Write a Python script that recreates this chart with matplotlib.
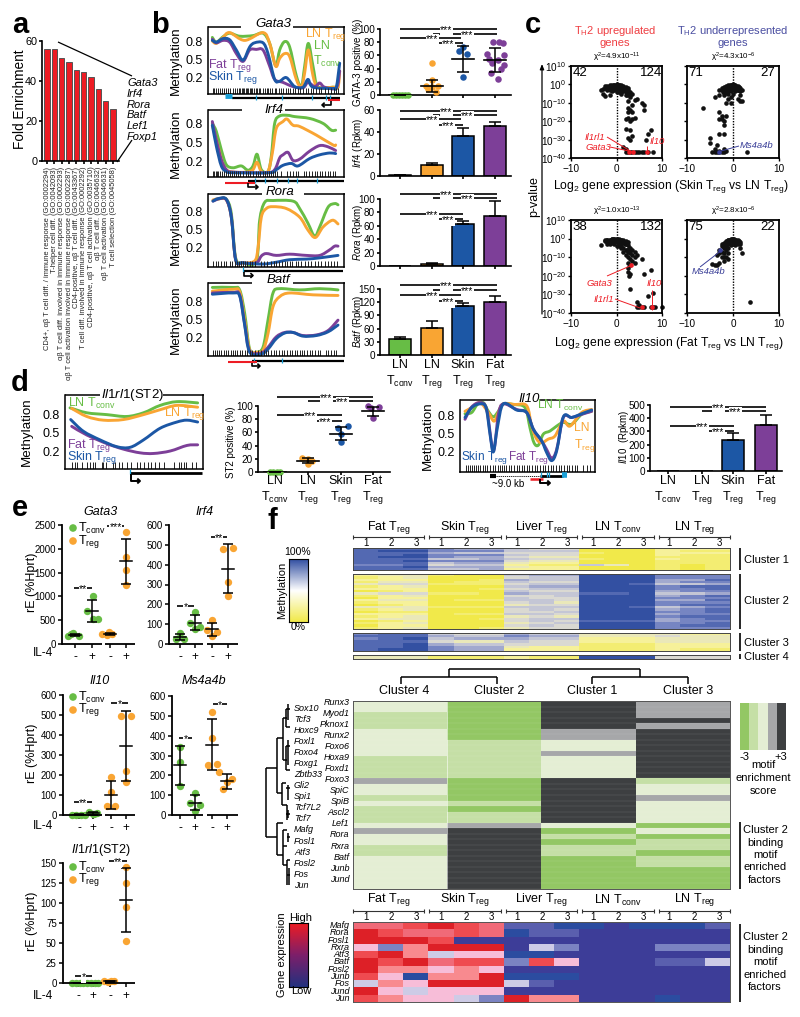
import numpy as np
import matplotlib
matplotlib.use("Agg")
import matplotlib.pyplot as plt
from matplotlib.colors import LinearSegmentedColormap, ListedColormap
from matplotlib.path import Path
from matplotlib.patches import PathPatch

plt.rcParams['font.family'] = ['Liberation Sans', 'DejaVu Sans']
plt.rcParams['mathtext.fontset'] = 'custom'
plt.rcParams['mathtext.rm'] = 'Liberation Sans'
plt.rcParams['mathtext.it'] = 'Liberation Sans:italic'
plt.rcParams['mathtext.default'] = 'regular'

W, H = 800, 1017
GREEN, ORANGE, BLUE, PURPLE = '#67bd45', '#f9a533', '#1c57a5', '#7d3f98'
RED = '#ed1c24'
NAVY = '#3a3f98'

# ---- panel a ----
go_terms = ['CD4+, αβ T cell diff. / immune response (GO:0002294)',
            'T-helper cell diff. (GO:0042093)',
            'αβ T cell diff. involved in immune response (GO:0002293)',
            'αβ T cell activation involved in immune response (GO:0002287)',
            'CD4-positive, αβ T cell diff. (GO:0043367)',
            'T cell diff. involved in immune response (GO:0002292)',
            'CD4-positive, αβ T cell activation (GO:0035710)',
            'αβ T cell diff. (GO:0046632)',
            'αβ T cell activation (GO:0046631)',
            'T cell selection (GO:0045058)']
fold_enrichment = [56, 56, 51.5, 49.5, 45.5, 44.5, 42, 36, 30, 26]
a_genes = ['Gata3', 'Irf4', 'Rora', 'Batf', 'Lef1', 'Foxp1']

# ---- panel b methylation curves: (track position, methylation) ----
gata3_green = [(638, .86), (650, .78), (670, .87), (690, .93), (720, .88), (760, .89), (790, .93), (810, .76), (828, .39), (840, .65), (855, .79), (870, .70), (890, .22), (905, .04), (915, .38), (926, .76), (940, .38), (955, .04), (1000, .03), (1015, .03)]
gata3_orange = [(638, .80), (650, .76), (670, .86), (690, .94), (735, .81), (790, .94), (810, .76), (828, .38), (840, .51), (855, .59), (870, .54), (890, .16), (905, .03), (915, .27), (926, .65), (940, .22), (955, .03), (1000, .03), (1015, .03), (1020, .30)]
gata3_purple = [(638, .83), (650, .77), (670, .81), (690, .78), (710, .59), (730, .46), (750, .65), (770, .66), (790, .65), (810, .38), (825, .16), (850, .11), (880, .04), (910, .02), (925, .11), (945, .04), (960, .10), (975, .03), (1010, .02), (1020, .30)]
gata3_blue = [(638, .81), (650, .78), (670, .84), (690, .82), (710, .65), (730, .48), (750, .70), (765, .77), (790, .77), (805, .59), (825, .16), (840, .13), (860, .19), (885, .04), (910, .03), (925, .16), (940, .03), (1000, .01), (1010, .03), (1020, .43)]

irf4_green = [(638, .81), (650, .68), (665, .38), (680, .14), (700, .09), (725, .12), (745, .05), (760, .12), (772, .31), (785, .06), (805, .03), (815, .28), (825, .81), (840, .93), (865, .94), (885, .92), (930, .89), (970, .81), (995, .70), (1008, .70)]
irf4_orange = [(638, .78), (655, .44), (670, .14), (690, .03), (740, .02), (760, .06), (772, .18), (785, .03), (805, .03), (818, .33), (830, .73), (850, .84), (862, .88), (880, .78), (900, .76), (950, .62), (1000, .46), (1008, .46)]
irf4_purple = [(638, .84), (650, .54), (665, .22), (680, .06), (700, .02), (800, .01), (825, .06), (840, .25), (850, .30), (865, .34), (880, .21), (900, .23), (930, .36), (960, .45), (985, .43), (1008, .37)]
irf4_blue = [(638, .78), (650, .44), (665, .12), (680, .03), (700, .01), (810, .01), (830, .06), (850, .13), (875, .16), (895, .12), (930, .24), (960, .30), (990, .33), (1008, .32)]

rora_green = [(640, .97), (660, 1.0), (680, .99), (695, .76), (708, .04), (730, -.04), (770, -.01), (780, .65), (795, .94), (820, .97), (880, .96), (900, .84), (925, .60), (945, .39), (960, .54), (985, .86), (1005, .92), (1015, .90)]
rora_orange = [(640, .98), (660, 1.0), (680, .98), (695, .70), (708, .01), (730, -.04), (765, -.01), (775, .20), (785, .70), (800, .84), (820, .87), (860, .84), (900, .70), (925, .49), (947, .37), (970, .54), (998, .65), (1015, .59)]
rora_purple = [(640, .96), (660, 1.0), (680, .98), (695, .70), (708, .01), (730, -.04), (770, -.04), (785, .07), (800, .11), (830, .08), (870, .10), (920, .08), (960, .08), (990, .17), (1005, .23), (1015, .23)]
rora_blue = [(640, .96), (655, 1.0), (680, .99), (695, .70), (708, .01), (730, -.04), (790, -.06), (830, -.03), (870, .01), (920, .02), (960, .04), (1015, .08)]

batf_green = [(638, 1.02), (700, 1.02), (720, .98), (735, .60), (750, .02), (770, -.03), (790, .05), (805, .49), (820, .93), (840, 1.0), (900, .98), (960, 1.0), (1015, .98)]
batf_orange = [(638, .96), (700, .99), (720, .95), (735, .49), (750, 0), (770, -.03), (790, 0), (805, .27), (820, .71), (840, .87), (870, .93), (940, .90), (1015, .89)]
batf_purple = [(638, .93), (700, .94), (720, .90), (735, .43), (750, -.01), (785, -.04), (805, .05), (830, .22), (855, .29), (880, .29), (910, .24), (950, .25), (985, .32), (1015, .49)]
batf_blue = [(638, .91), (700, .93), (720, .88), (735, .41), (750, -.03), (785, -.06), (805, .02), (830, .19), (855, .28), (880, .29), (910, .23), (950, .24), (985, .30), (1015, .41)]

il1rl1_green = [(210, .90), (260, .82), (320, .79), (380, .76), (430, .82), (480, .94), (530, 1.0), (592, .98)]
il1rl1_orange = [(215, .89), (260, .76), (310, .70), (370, .71), (430, .79), (480, .87), (530, .94), (592, .91)]
il1rl1_purple = [(215, .60), (260, .46), (320, .32), (370, .23), (420, .17), (460, .16), (510, .20), (560, .29), (592, .30)]
il1rl1_blue = [(212, .71), (250, .52), (300, .38), (350, .27), (390, .26), (430, .38), (480, .57), (530, .67), (560, .70), (592, .67)]

il10_green = [(195, .82), (215, .84), (232, .97), (250, 1.0), (265, .86), (280, .77), (295, .86), (310, .98), (340, .97), (375, .92), (390, .59), (402, .35), (415, .31), (430, .49), (450, .54), (470, .62), (490, .68), (515, .65), (545, .81), (575, .86)]
il10_orange = [(195, .86), (215, .92), (240, 1.0), (265, .84), (282, .70), (295, .84), (310, .98), (345, .97), (380, .95), (395, .62), (410, .41), (425, .35), (445, .41), (465, .46), (490, .70), (510, .62), (545, .84), (575, .89)]
il10_purple = [(195, .73), (215, .93), (240, 1.0), (260, .89), (280, .22), (295, .81), (310, .98), (350, .89), (380, .84), (400, .57), (425, .38), (440, .24), (455, .10), (470, .24), (490, .76), (515, .76), (545, .81), (575, .86)]
il10_blue = [(195, .76), (215, .92), (240, .98), (258, .92), (270, .49), (280, .20), (292, .59), (310, .98), (350, .88), (380, .84), (400, .57), (425, .38), (440, .19), (455, .06), (470, .22), (490, .77), (515, .76), (545, .82), (575, .88)]

# CpG rug positions along each track
gata3_rug = [640, 644, 650, 655, 661, 668, 672, 680, 684, 690, 700, 707, 712, 718, 722, 726, 730, 733, 738, 742, 746, 750, 754, 758, 763, 768, 772, 777, 782, 790, 795, 801, 806, 812, 818, 825, 830, 838, 845, 850, 858, 865, 872, 880, 886, 895, 902, 910, 918, 925, 933, 940, 948, 958, 965, 975, 985, 993, 1002, 1010, 1016]
irf4_rug = [640, 644, 648, 652, 656, 662, 668, 672, 678, 684, 690, 696, 702, 708, 716, 722, 730, 738, 745, 752, 760, 768, 775, 782, 790, 796, 802, 808, 814, 820, 826, 832, 845, 862, 870, 880, 888, 895, 912, 920, 928, 936, 945, 952, 960, 968, 976, 985, 992, 1000, 1006]
rora_rug = [640, 648, 656, 664, 672, 680, 690, 697, 705, 712, 718, 724, 730, 736, 742, 750, 758, 766, 785, 792, 802, 815, 822, 830, 838, 846, 855, 862, 870, 878, 888, 896, 905, 915, 925, 935, 945, 955, 965, 975, 985, 995, 1003, 1012]
batf_rug = [640, 646, 652, 658, 664, 672, 680, 686, 694, 700, 706, 712, 720, 728, 736, 742, 750, 758, 766, 775, 784, 792, 800, 806, 814, 822, 830, 838, 846, 854, 862, 870, 878, 886, 892, 900, 906, 914, 922, 930, 938, 946, 954, 962, 978, 986, 994, 1002, 1010]
il1rl1_rug = [216, 224, 232, 245, 262, 270, 278, 285, 305, 310, 318, 340, 346, 358, 366, 382, 392, 410, 420, 432, 444, 452, 465, 476, 490, 520, 536, 542, 550, 558, 575, 588]
il10_rug = [198, 204, 210, 216, 222, 228, 234, 240, 248, 254, 262, 270, 278, 286, 294, 300, 306, 312, 318, 326, 334, 342, 350, 358, 366, 372, 380, 388, 396, 404, 412, 420, 428, 436, 444, 452, 460, 468, 476, 484, 492, 500, 508, 516, 524, 532, 550, 562, 570]

# ---- panel b / d summary values ----
tick_cells = ['LN', 'LN', 'Skin', 'Fat']
sub_cells = ['conv', 'reg', 'reg', 'reg']
bar_colors = [GREEN, ORANGE, BLUE, PURPLE]

gata_points = [[0, 0, 0, 0, 0, 0], [49, 23, 14, 14, 9, 5, 12], [72, 66, 62, 27], [80, 80, 79, 62, 60, 55, 53, 48, 45, 40, 33, 25]]
gata_offsets = [[-7, -4, -1, 2, 5, 8], [0, 0, -6, 6, -4, 4, 0], [0, -4, 4, 0], [-2, 4, 8, -8, 9, -6, 3, -3, 9, 6, -4, 3]]
gata_means = [0, 14, 55, 53]
gata_sd = [0, 9, 20, 18]
irf4_vals, irf4_err = [.5, 10, 36, 45.5], [.5, 2, 8, 4]
rora_vals, rora_err = [0, 3, 62, 75], [0, 1.5, 5, 22]
batf_vals, batf_err = [37, 62, 112, 120], [4, 16, 7, 14]
il10_vals, il10_err = [0, 0, 238, 345], [0, 0, 47, 82]
st2_points = [[0, 0, 0, 0], [21, 20, 17, 12], [70, 67, 58, 46], [100, 98, 97, 82]]
st2_offsets = [[-5, -2, 2, 5], [-6, 0, 4, 0], [7, -3, 0, 0], [-5, 6, -2, 0]]
st2_means = [0, 17, 58, 92]
st2_sd = [0, 4, 10, 7]

# ---- panel c (log2 fold change, log10 p) ----
skin_up_x = [-3.5, -3, -2.5, -2, -1.5, -1, -.5, 0, .5, 1, 1.5, 2, 2.5, 3, 3.5, -3, -2, -1, -.5, 0, .5, 1, 1.5, -1, 0, 1, 2, 2.5, -2.5, -1.5, 2, 3, 2.5, 4, 4.5, 5.5, 6, 3.5, 2.5, 2.5, 3, 3.5, 6, 2.5, 2, 3, 3.5, 4, 2, 3, 7.5, 7, 2.5, 3, 3.5, 6.5, 1.5, 2, 2.5, 3, 3.5, 4, 4.5, 5, 5.5, 6, 7, 8, 2]
skin_up_y = [-3, -2.5, -2, -1.5, -1, -.6, -.3, 0, -.3, -1, -1.5, -2, -3, -4, -5, -5, -3, -2.5, -1.5, -1.5, -2.5, -3, -3.5, -3.5, -3, -4, -4, -5, -6.5, -6, -6, -7, -9, -8.5, -8, -10, -11, -11, -13, -15, -14, -15, -14, -18, -19, -20, -19, -18, -24, -25, -25, -27, -29, -30, -28, -30, -34, -37, -37, -37, -37, -37, -37, -37, -37, -37, -37, -37, -35]
skin_down_x = [-3, -2.5, -2, -1.5, -1, -.5, 0, .5, 1, 1.5, 2, 1.5, -2, -1, 0, 1, .5, -.5, -1, -3, -4, -2, -1, 0, 1.5, 1, 1.5, 2, -.5, -1, -1.5, -.5, -6.5, -3, -2.5, -2.5, -2, -3, -1.5, -2, -5, -3, -2, -5, -3.5, -4, -4.5, -4, -3.5, -3, -2.5, -2, -1.5, -2, 3, -3]
skin_down_y = [-3, -2, -1.5, -1, -.5, -.2, 0, -.4, -1, -2, -3, -3.5, -3, -2, -2, -3, -3, -3, -3.5, -6, -7, -6, -5, -5, -6, -8, -9, -9, -7, -8, -10, -10, -13, -15, -17, -19, -20, -19, -17, -22, -29, -27, -27, -32, -33, -35, -37, -37, -37, -37, -37, -37, -36, -35, -37, -36]
fat_up_x = [-3.5, -2.5, -2, -1.5, -1, -.5, 0, .5, 1, 1.5, 2, 2.5, 3, 3.5, 4, -2, -1, 0, .5, 1, 1.5, 2, 2.5, 3, 3.5, 1.5, 2, 2.5, 3, 3.5, 4, 4.5, 5.5, 2.5, 3, 4, 2.5, 2.5, 3, 2.8, 6, 7.5, 3, 7, 8, 4.5, 4.5, 5, 5.5, 6, 7.5, 8, 8.5, 10, 5]
fat_up_y = [-3.5, -1.5, -1, -.5, -.3, -.1, 0, -.5, -1, -1.5, -2.5, -3.5, -5, -6, -7, -3, -2, -2, -3, -4, -5, -6, -7, -8, -9, -7, -9, -10, -11, -12, -10, -9, -11, -13, -14, -13, -16, -18, -19, -20, -19, -17, -27, -31, -29, -34, -37, -37, -37, -37, -37, -37, -37, -37, -35.5]
fat_down_x = [-2.5, -2, -1.5, -1, -.5, 0, .5, 1, 1.5, -1.5, -1, 0, .5, -2, -3, -2.5, -3, -3.5, -2, -1.5, -1, -2, -2.5, -1, -1.5, -2, -1, -3.5, -4, -4.5, -3, 2, 1.5, 3.7]
fat_down_y = [-4, -3, -2, -1, -.3, 0, -.5, -1, -2, -3.5, -3, -2, -3, -5, -6, -7, -8, -9, -8, -6, -5, -10, -10, -8, -10, -12, -11, -14, -14, -13.5, -13, -7.5, -5, -34]
# the dense arch near p=1 shared by the up-regulated plots and by the under-represented plots
arch_up_x = [-2.5, -2, -1.5, -1, -.5, 0, .5, 1, 1.5, 2, -1.5, -1, -.5, 0, .5, 1, 1.5, 2, -.5, 0, .5, 1, -2, -1.5, .3, -.3, .8, 1.2, 1.8, 2.2, -.8, -1.2, 2.5, 2.8, 3, 2.2]
arch_up_y = [-1, -.7, -.5, -.3, -.2, -.1, -.2, -.5, -1, -1.3, -2, -1.5, -.8, -.7, -1.2, -2, -2.5, -3, -3, -4, -4, -5, -2, -3, -1, -1, -1.5, -2, -3, -3, -2, -2.5, -2, -5, -6, -6]
arch_down_x = [-2.5, -2, -1.5, -1, -.7, -.3, .2, .7, 1.2, -1.2, -.8, -.4, .3, .8, -1.5, -.5, .5, -2.2, -1.8, 1.5, -.2, .1, 1]
arch_down_y = [-3, -2.2, -1.5, -.8, -.5, -.2, -.2, -.7, -1.5, -2.5, -2, -1.5, -1.5, -2, -3.5, -3.5, -3.5, -4, -4.5, -3, -.8, -.9, -3]
skin_up_marks = [(2.8, -37), (3.6, -37), (6.8, -37)]
skin_down_marks = [(-3, -37)]
fat_up_marks = [(3.2, -14), (5.5, -37), (7.8, -37)]
fat_down_marks = [(-2.8, -6)]
c_counts = [('42', '124'), ('71', '27'), ('38', '132'), ('75', '22')]
c_chi = ['4.9x10$^{-11}$', '4.3x10$^{-6}$', '1.0x10$^{-13}$', '2.8x10$^{-6}$']
p_ticks = [10, 0, -10, -20, -30, -40]

# ---- panel e ----
e_gata3 = [[230, 170, 170, 200], [1015, 700, 520, 520], [215, 255, 195, 215], [2350, 1820, 1550, 1240]]
e_gata3_off = [[-2, -7, 4, -4], [1, -5, 1, 6], [-8, -1, -3, 2], [0, 0, 0, 0]]
e_gata3_mean, e_gata3_sd = [190, 690, 215, 1740], [30, 230, 20, 470]
e_irf4 = [[55, 25, 25], [160, 105, 85, 75], [122, 70, 60, 42], [480, 485, 315, 240]]
e_irf4_off = [[0, -4, 4], [0, -5, 5, 0], [0, -5, 5, 0], [-5, 5, 0, 0]]
e_irf4_mean, e_irf4_sd = [35, 108, 75, 380], [15, 37, 33, 122]
e_il10 = [[0, 0, 0, 2], [15, 10, 5, 5], [190, 115, 45, 45], [495, 497, 220, 165]]
e_il10_off = [[-7, -3, 2, 6], [-4, 4, 0, 1], [0, 0, -4, 4], [-5, 5, 0, 0]]
e_il10_mean, e_il10_sd = [2, 8, 100, 345], [1, 6, 70, 175]
e_ms4 = [[345, 265, 145], [110, 60, 50, 20], [518, 390, 255, 250], [215, 182, 130, 165]]
e_ms4_off = [[0, 0, 0], [0, -5, 5, 0], [0, 0, 5, -4], [-8, 5, -4, 0]]
e_ms4_mean, e_ms4_sd = [250, 62, 355, 170], [100, 37, 127, 37]
e_st2 = [[0, 0, 0, 0], [0, 0, 0, 0], [3, 3, 1, 2], [145, 125, 95, 52]]
e_st2_off = [[-6, -2, 2, 5], [-6, -2, 2, 5], [-6, 4, -2, 1], [0, 0, 0, 0]]
e_st2_mean, e_st2_sd = [0, 0, 2, 104], [0, 0, 1, 40]
il4_signs = ['-', '+', '-', '+']

# ---- panel f ----
f_groups = ['Fat', 'Skin', 'Liver', 'LN', 'LN']
f_subs = ['reg', 'reg', 'reg', 'conv', 'reg']
cluster1_rows = ['888 766 544 000 222', '899 777 555 000 211', '888 655 444 100 222',
                 '889 777 544 000 211', '899 766 433 000 111', '888 556 544 100 211',
                 '889 777 433 000 111', '888 566 322 000 111', '778 455 211 530 101',
                 '889 666 322 000 101', '888 556 222 000 101']
cluster2_rows = ['233 100 566 999 777', '123 000 455 999 777', '222 001 655 999 668',
                 '133 011 544 999 677', '344 111 455 998 556', '123 000 566 999 788',
                 '222 001 455 999 778', '012 000 544 999 677', '344 110 655 889 556',
                 '123 000 445 999 678', '022 000 544 999 777', '233 011 554 999 668',
                 '122 000 453 999 777', '012 000 344 999 788', '333 111 555 998 567',
                 '123 000 454 999 678', '011 000 445 999 778', '222 011 554 999 677',
                 '123 000 343 999 788', '233 001 455 999 678', '012 000 454 888 677',
                 '123 000 345 999 778', '022 000 454 999 788', '123 001 344 999 777']
cluster3_rows = ['788 544 655 333 322', '888 655 766 333 433', '789 566 655 222 333',
                 '888 433 544 222 333', '889 655 444 111 222', '889 766 322 111 222',
                 '899 766 222 111 211']
cluster4_rows = ['333 111 211 999 444']

motif_names = ['Runx3', 'Sox10', 'Myod1', 'Tcf3', 'Pknox1', 'Hoxc9', 'Runx2', 'Foxl1', 'Foxo6', 'Foxo4', 'Hoxa9',
               'Foxg1', 'Foxd1', 'Zbtb33', 'Foxo3', 'Gli2', 'SpiC', 'Spi1', 'SpiB', 'Tcf7L2', 'Ascl2', 'Tcf7',
               'Lef1', 'Mafg', 'Rora', 'Fosl1', 'Rxra', 'Atf3', 'Batf', 'Fosl2', 'Junb', 'Fos', 'Jund', 'Jun']
motif_rows = ['2043', '2043', '1043', '1044', '1043', '2034', '2034', '2124', '2124', '2134', '1124', '1124',
              '1124', '1124', '3041', '2042', '2042', '1043', '2142', '1042', '1142', '1142', '2320', '3402',
              '2410', '2401', '1411', '1410', '2401', '2401', '2400', '2400', '2400', '2400']
motif_colors = ['#93c764', '#c5dfa6', '#e4eed4', '#a6a7a9', '#3d3f41']
motif_columns = ['Cluster 4', 'Cluster 2', 'Cluster 1', 'Cluster 3']

expr_names = ['Mafg', 'Rora', 'Fosl1', 'Rxra', 'Atf3', 'Batf', 'Fosl2', 'Junb', 'Fos', 'Jund', 'Jun']
expr_rows = ['hhijihccbbabbbc', 'jihhihbccaaaaaa', 'jjjiaaaaaaaaaaa', 'fdgjjjaedaaaddd', 'ijgeffbbaaaaaaa',
             'jijhiidifaaacce', 'jggfgfaaaaaaaaa', 'ifbggjbbbaaaaaa', 'egfjjjecaaaaaaa', 'jfefffaaaaaaaaa',
             'igffedjggaaabaa']
expr_codes = 'abcdefghij'
expr_colors = ['#3d3d98', '#2b4ca0', '#5a5fae', '#7b83c2', '#cdcbe6', '#f7bdd8', '#f88a8f', '#f06a78', '#ef4b50', '#dd2027']


fig = plt.figure(figsize=(W / 100, H / 100), dpi=100)


def px_axes(l, t, r, b):
    return fig.add_axes([l / W, 1 - b / H, (r - l) / W, (b - t) / H])


# overlay in image pixels for labels, brackets and gene tracks
ov = fig.add_axes([0, 0, 1, 1], zorder=50)
ov.set_xlim(0, W)
ov.set_ylim(H, 0)
ov.axis('off')
ov.patch.set_alpha(0)


def txt(x, y, s, size=9, color='black', ha='center', va='center', **kw):
    ov.text(x, y, s, fontsize=size, color=color, ha=ha, va=va, **kw)


def seg(xs, ys, lw=1.0, color='black', **kw):
    ov.plot(xs, ys, color=color, lw=lw, solid_capstyle='butt', **kw)


def stars(x0, x1, y, label='***', xc=None, lw=1.2):
    seg([x0, x1], [y, y], lw=lw)
    xc = (x0 + x1) / 2 if xc is None else xc
    ov.text(xc, y + 1.5, label, fontsize=7.5, ha='center', va='center',
            bbox=dict(fc='white', ec='none', pad=0.2))


def clean(ax, lw=1.2, size=7.2, length=2.5):
    ax.spines['top'].set_visible(False)
    ax.spines['right'].set_visible(False)
    ax.spines['left'].set_linewidth(lw)
    ax.spines['bottom'].set_linewidth(lw)
    ax.tick_params(width=lw, length=length, labelsize=size, pad=1)
    ax.patch.set_alpha(0)


def cell_labels(xs, y0, y1, size=9):
    for x, a, b in zip(xs, tick_cells, sub_cells):
        txt(x, y0, a, size=size)
        txt(x, y1, 'T$_{%s}$' % b, size=size)


def smooth_curve(ax, pts, color):
    # bezier path through the read points so the trace stays rounded
    p = np.array(pts, dtype=float)
    verts = [p[0]]
    codes = [Path.MOVETO]
    for i in range(len(p) - 1):
        p0 = p[max(i - 1, 0)]
        p1, p2 = p[i], p[i + 1]
        p3 = p[min(i + 2, len(p) - 1)]
        verts += [p1 + (p2 - p0) / 6, p2 - (p3 - p1) / 6, p2]
        codes += [Path.CURVE4] * 3
    ax.add_patch(PathPatch(Path(verts, codes), fc='none', ec=color, lw=2.1, capstyle='round', joinstyle='round'))


for letter, x, y in [('a', 20, 25), ('b', 160, 25), ('c', 533, 25), ('d', 20, 383), ('e', 20, 508), ('f', 272, 521)]:
    txt(x, y, letter, size=21, fontweight='bold')

# ---------- a ----------
ax = px_axes(42, 41, 119, 161)
clean(ax, size=7.8)
ax.bar(range(len(fold_enrichment)), fold_enrichment, width=0.72, color=RED, edgecolor='#555555', linewidth=0.7)
ax.set_xlim(-0.7, 9.8)
ax.set_ylim(0, 60)
ax.set_yticks([0, 20, 40, 60])
ax.set_xticks(range(len(go_terms)))
ax.set_xticklabels([])
for i, t in enumerate(go_terms):
    ax.annotate(t, (i, 0), xytext=(0, -4), textcoords='offset points', rotation=90, ha='center', va='top', fontsize=5.4, color='#222222')
txt(20, 99, 'Fold Enrichment', size=9.8, rotation=90)
seg([58, 132], [42, 76], lw=0.9)
seg([117, 132], [162, 140], lw=0.9)
for g, y in zip(a_genes, [83, 94, 105, 115, 126, 137]):
    txt(127, y, g, size=8, ha='left', style='italic')


# ---------- methylation tracks ----------
def methyl(box, y08, y02, xlim, curves, rug, title, title_x, gap, title_y=None, rug_h=0.085):
    l, t, r, b = box
    ax = px_axes(l, t, r, b)
    scale = (y02 - y08) / 0.6
    ax.set_ylim(0.2 - (b - y02) / scale, 0.8 + (y08 - t) / scale)
    ax.set_xlim(*xlim)
    ax.vlines(rug, 0, rug_h, transform=ax.get_xaxis_transform(), color='#222222', lw=0.7)
    for c, col in zip(curves, [GREEN, ORANGE, PURPLE, BLUE]):
        smooth_curve(ax, c, col)
    ax.set_xticks([])
    ax.set_yticks([0.2, 0.5, 0.8])
    ax.set_yticklabels(['0.2', '0.5', '0.8'])
    ax.tick_params(length=0, labelsize=9, pad=4)
    ax.spines['top'].set_visible(False)
    for s in ['left', 'right', 'bottom']:
        ax.spines[s].set_linewidth(1.1)
    seg([l - 0.5, gap[0]], [t, t], lw=1.1)
    seg([gap[1], r + 0.5], [t, t], lw=1.1)
    txt(title_x, t if title_y is None else title_y, title, size=9.5, style='italic')
    txt(l - 32 if l > 100 else l - 38, (t + b) / 2, 'Methylation', size=9.6, rotation=90)


methyl((208, 27, 344, 94), 41, 77, (625, 1033), [gata3_green, gata3_orange, gata3_purple, gata3_blue], gata3_rug, 'Gata3', 273, (241, 293), 24)
methyl((208, 110, 344, 177), 124, 161, (625, 1033), [irf4_green, irf4_orange, irf4_purple, irf4_blue], irf4_rug, 'Irf4', 274, (242, 285))
methyl((208, 194, 344, 267), 211, 248, (625, 1033), [rora_green, rora_orange, rora_purple, rora_blue], rora_rug, 'Rora', 280, (262, 304), 192)
methyl((208, 283, 344, 356), 301, 338, (625, 1033), [batf_green, batf_orange, batf_purple, batf_blue], batf_rug, 'Batf', 278, (252, 293), 280)

txt(305, 35, 'LN T$_{reg}$', size=9, color=ORANGE, ha='left')
txt(322, 46, 'LN', size=9, color=GREEN)
txt(313, 61, 'T$_{conv}$', size=9, color=GREEN, ha='left')
txt(208, 66, 'Fat T$_{reg}$', size=9, color=PURPLE, ha='left')
txt(208, 78, 'Skin T$_{reg}$', size=9, color=BLUE, ha='left')


def arrow_track(x, y0, y1, x1, lw=1.2):
    seg([x, x, x1], [y0, y1, y1], lw=lw)
    d = 2 if x1 > x else -2
    ov.plot([x1 - d, x1, x1 - d], [y1 - 1.8, y1, y1 + 1.8], color='black', lw=lw)


# gene tracks under panel b and d
LB = '#1ba1d8'
seg([232, 340], [97.7, 97.7], lw=1.6)
seg([225, 232], [96, 96], lw=3.5, color=LB)
for x in [256, 282, 312, 326, 330]:
    seg([x, x], [95, 100], lw=0.9, color=LB)
seg([328, 340], [99.6, 99.6], lw=1.5, color=RED)
arrow_track(331, 101, 105, 322)
seg([248, 344], [180.5, 180.5], lw=1.6)
for x in [255, 265, 277, 288, 297, 317]:
    seg([x, x], [178, 183], lw=0.9, color=LB)
seg([225, 255], [183, 183], lw=1.5, color=RED)
arrow_track(248, 183, 187, 258)
seg([243, 343], [271, 271], lw=1.6)
seg([243, 243], [267, 272], lw=0.9, color=LB)
arrow_track(244, 272, 275.5, 253)
seg([252, 344], [360.5, 360.5], lw=1.6)
for x in [254, 282]:
    seg([x, x], [358, 363], lw=0.9, color=LB)
seg([228, 257], [362, 362], lw=1.5, color=RED)
arrow_track(252, 363, 366, 260)


def dotted_strip(ax, cats, points, offsets, means, sds, ms=19):
    for x, p, o, m, s, col in zip(cats, points, offsets, means, sds, bar_colors):
        ax.scatter(np.array(o) + x, p, s=ms, color=col, zorder=3, linewidths=0, clip_on=False)
        ax.plot([x - 11, x + 11], [m, m], color='black', lw=1.2, zorder=4)
        ax.errorbar([x], [m], yerr=[s], color='black', lw=1.1, capsize=4, capthick=1.1, zorder=4)


def bars(ax, cats, vals, errs, w=22):
    ax.bar(cats, vals, width=w, color=bar_colors, edgecolor='black', linewidth=1.1)
    for x, v, e in zip(cats, vals, errs):
        if e > 0:
            ax.errorbar([x], [v], yerr=[[0], [e]], color='black', lw=1.1, capsize=4, capthick=1.1)


cats_b = [400, 432, 463, 495]
ax = px_axes(380, 29, 511, 95)
clean(ax)
dotted_strip(ax, cats_b, gata_points, gata_offsets, gata_means, gata_sd, ms=22)
ax.set_xlim(380, 511)
ax.set_ylim(0, 100)
ax.set_yticks(range(0, 101, 20))
ax.set_xticks(cats_b)
ax.set_xticklabels([])
ax = px_axes(380, 110, 511, 176)
clean(ax)
bars(ax, cats_b, irf4_vals, irf4_err)
ax.set_xlim(380, 511)
ax.set_ylim(0, 60)
ax.set_yticks([0, 20, 40, 60])
ax.set_xticks(cats_b)
ax.set_xticklabels([])
ax = px_axes(380, 199, 511, 266)
clean(ax)
bars(ax, cats_b, rora_vals, rora_err)
ax.set_xlim(380, 511)
ax.set_ylim(0, 100)
ax.set_yticks(range(0, 101, 20))
ax.set_xticks(cats_b)
ax.set_xticklabels([])
ax = px_axes(380, 289, 511, 355)
clean(ax)
bars(ax, cats_b, batf_vals, batf_err)
ax.set_xlim(380, 511)
ax.set_ylim(0, 150)
ax.set_yticks(range(0, 151, 30))
ax.set_xticks(cats_b)
ax.set_xticklabels([])
cell_labels(cats_b, 365, 381)

txt(358, 62, 'GATA-3 positive (%)', size=7, rotation=90)
txt(358, 143, '$\\mathit{Irf4}$ (Rpkm)', size=7, rotation=90)
txt(358, 232, '$\\mathit{Rora}$ (Rpkm)', size=7, rotation=90)
txt(358, 321, '$\\mathit{Batf}$ (Rpkm)', size=7, rotation=90)

for tops in [(29, 34, 38, 43), (110.7, 115, 119, 125), (194, 198, 214, 219), (285, 290, 295, 301)]:
    stars(400, 497, tops[0], xc=446)
    stars(433, 497, tops[1], xc=467)
    stars(400, 463, tops[2], xc=432)
    stars(433, 463, tops[3], xc=448)

# ---------- c ----------
c_boxes = [(571, 66, 662, 158), (687, 66, 779, 158), (571, 220, 662, 313), (687, 220, 779, 313)]
c_data = [(skin_up_x + arch_up_x, skin_up_y + arch_up_y, skin_up_marks, RED), (skin_down_x + arch_down_x, skin_down_y + arch_down_y, skin_down_marks, NAVY),
          (fat_up_x + arch_up_x, fat_up_y + arch_up_y, fat_up_marks, RED), (fat_down_x + arch_down_x, fat_down_y + arch_down_y, fat_down_marks, NAVY)]
for i, (box, d, cnt, chi) in enumerate(zip(c_boxes, c_data, c_counts, c_chi)):
    ax = px_axes(*box)
    ax.axvline(0, color='black', lw=1.0, ls=(0, (1, 1)), zorder=1)
    ax.scatter(d[0], d[1], s=11, color='#111111', linewidths=0, zorder=2, clip_on=False)
    mx, my = zip(*d[2])
    ax.scatter(mx, my, s=11, color=d[3], linewidths=0, zorder=3, clip_on=False)
    ax.set_xlim(-10, 10)
    ax.set_ylim(-40, 10)
    ax.set_xticks([-10, 0, 10])
    ax.set_yticks(p_ticks)
    if i % 2 == 0:
        ax.set_yticklabels(['10$^{%d}$' % p for p in p_ticks])
    else:
        ax.set_yticklabels([])
    ax.tick_params(labelsize=7.2, length=2.5, width=1.0, pad=1.5)
    for s in ax.spines.values():
        s.set_linewidth(1.3)
    ax.patch.set_alpha(0)
    l, t, r, b = box
    txt(l + 9, t + 7, cnt[0], size=9.5)
    txt(r - 11, t + 7, cnt[1], size=9.5)
    txt((l + r) / 2 + 0.5, t - 9, 'χ$^2$=' + chi, size=5.8)

txt(615, 31, 'T$_H$2 upregulated', size=8, color='#ef3e42')
txt(615, 43, 'genes', size=8, color='#ef3e42')
txt(733, 31, 'T$_H$2 underrepresented', size=8, color='#4a4ea1')
txt(733, 43, 'genes', size=8, color='#4a4ea1')
txt(671, 187, 'Log$_2$ gene expression (Skin T$_{reg}$ vs LN T$_{reg}$)', size=8.7)
txt(669, 343, 'Log$_2$ gene expression (Fat T$_{reg}$ vs LN T$_{reg}$)', size=8.7)
txt(534, 197, 'p-value', size=9, rotation=90)
ov.annotate('', xy=(542, 64), xytext=(542, 314), arrowprops=dict(arrowstyle='-|>,head_width=0.12,head_length=0.3', color='black', lw=0.9, shrinkA=0, shrinkB=0))

for t, x, y, c, xs, ys in [('Il1rl1', 595, 137, RED, [607, 632], [137, 152]), ('Gata3', 598, 147, RED, [610, 629], [147, 151]),
                           ('Il10', 657, 142, RED, [647, 647], [146, 152]), ('Ms4a4b', 757, 145, NAVY, [739, 721], [146, 151]),
                           ('Gata3', 599, 283, RED, [607, 630], [276, 266]), ('Il10', 654, 284, RED, [652, 652], [290, 310]),
                           ('Il1rl1', 604, 299, RED, [615, 640], [299, 308]), ('Ms4a4b', 709, 272, NAVY, [700, 722], [267, 250])]:
    seg(xs, ys, lw=0.7, color=c)
    txt(x, y, t, size=6.8, color=c, style='italic')

# ---------- d ----------
methyl((65, 395, 203, 469), 414, 451, (195, 608), [il1rl1_green, il1rl1_orange, il1rl1_purple, il1rl1_blue], il1rl1_rug, '', 133, (100, 163), rug_h=0.09)
txt(133, 395, '$\\mathit{Il1rl1}$(ST2)', size=9.5)
txt(68, 403, 'LN T$_{conv}$', size=9, color=GREEN, ha='left')
txt(164, 414, 'LN T$_{reg}$', size=9, color=ORANGE, ha='left')
txt(67, 445, 'Fat T$_{reg}$', size=9, color=PURPLE, ha='left')
txt(67, 457, 'Skin T$_{reg}$', size=9, color=BLUE, ha='left')
seg([130, 202], [473, 473], lw=2)
seg([130, 130], [469, 474], lw=0.9, color=LB)
arrow_track(131, 474, 481, 140, lw=1.4)

cats_st2 = [275, 308, 341, 373]
ax = px_axes(258, 406, 390, 472)
clean(ax)
dotted_strip(ax, cats_st2, st2_points, st2_offsets, st2_means, st2_sd, ms=22)
ax.set_xlim(258, 390)
ax.set_ylim(0, 100)
ax.set_yticks(range(0, 101, 20))
ax.set_xticks(cats_st2)
ax.set_xticklabels([])
txt(231, 442, 'ST2 positive (%)', size=7, rotation=90)
cell_labels(cats_st2, 481, 497, size=9)
stars(277, 373, 397, xc=326)
stars(308, 373, 401, xc=342)
stars(277, 342, 415, xc=310)
stars(308, 342, 421, xc=325)

methyl((460, 400, 595, 472), 415, 452, (180, 585), [il10_green, il10_orange, il10_purple, il10_blue], il10_rug, '', 529, (495, 540), rug_h=0.10)
txt(529, 399, 'Il10', size=9.5, style='italic')
txt(537, 405, 'LN T$_{conv}$', size=8.7, color=GREEN, ha='left')
txt(582, 428, 'LN', size=8.7, color=ORANGE)
txt(585, 445, 'T$_{reg}$', size=8.7, color=ORANGE)
txt(461, 457, 'Skin T$_{reg}$', size=8.5, color=BLUE, ha='left')
txt(508, 457, 'Fat T$_{reg}$', size=8.5, color=PURPLE, ha='left')
seg([490, 496], [476, 476], lw=3)
ov.plot([496, 540], [476, 476], color='black', lw=0.6, ls=(0, (1.5, 1)))
seg([540, 563], [476, 476], lw=2)
for x in [541, 547, 549]:
    seg([x, x], [472, 477], lw=0.9, color=LB)
seg([562, 567], [474.5, 474.5], lw=4, color=LB)
seg([530, 543], [478.5, 478.5], lw=1.8, color=RED)
arrow_track(540, 479, 483, 550, lw=1.4)
txt(508, 484, '~9.0 kb', size=7)

cats_il10 = [668, 702, 733, 766]
ax = px_axes(650, 405, 782, 471)
clean(ax)
bars(ax, cats_il10, il10_vals, il10_err)
ax.set_xlim(650, 782)
ax.set_ylim(0, 500)
ax.set_yticks(range(0, 501, 100))
ax.set_xticks(cats_il10)
ax.set_xticklabels([])
txt(624, 437, '$\\mathit{Il10}$  (Rpkm)', size=7, rotation=90)
cell_labels(cats_il10, 481, 497, size=9)
stars(670, 766, 406.5, xc=718)
stars(702, 766, 411, xc=735)
stars(670, 734, 426, xc=702)
stars(702, 734, 431, xc=718)


# ---------- e ----------
def dots_panel(box, cats, ymax, ticks, points, offsets, means, sds, title, title_xy, ylabel=True, brk=None):
    ax = px_axes(*box)
    ax.spines['top'].set_visible(False)
    ax.spines['right'].set_visible(False)
    ax.spines['bottom'].set_visible(False)
    ax.spines['left'].set_linewidth(1.3)
    colors = [GREEN, GREEN, ORANGE, ORANGE]
    for x, p, o, m, s, col in zip(cats, points, offsets, means, sds, colors):
        ax.scatter(np.array(o) + x, p, s=28, color=col, linewidths=0, zorder=3, clip_on=False)
        ax.plot([x - 6, x + 6], [m, m], color='black', lw=1.1, zorder=4)
        ax.errorbar([x], [m], yerr=[s], color='black', lw=1.1, capsize=3.5, capthick=1.1, zorder=4)
    ax.set_xlim(box[0], box[2])
    ax.set_ylim(0, ymax)
    ax.set_yticks(ticks)
    ax.set_xticks(cats)
    ax.set_xticklabels(il4_signs)
    ax.tick_params(labelsize=7, width=1.1, length=3, pad=1.5)
    ax.tick_params(axis='x', labelsize=8.5, pad=2)
    ax.patch.set_alpha(0)
    seg([box[0], brk[0]], [box[3], box[3]], lw=1.3)
    seg([brk[1], box[2]], [box[3], box[3]], lw=1.3)
    txt(title_xy[0], title_xy[1], title, size=9, style='italic' if '(' not in title else 'normal')
    if ylabel:
        txt(32, (box[1] + box[3]) / 2 - 2, 'rE (%Hprt)', size=9, rotation=90)


def dot_legend(y0, y1):
    ax_x = 73
    ov.scatter([ax_x, ax_x], [y0, y1], s=30, color=[GREEN, ORANGE], linewidths=0)
    txt(78, y0, 'T$_{conv}$', size=9, ha='left')
    txt(78, y1, 'T$_{reg}$', size=9, ha='left')


dots_panel((62, 525, 135, 644), [75, 92, 110, 126], 2500, range(0, 2501, 500), e_gata3, e_gata3_off, e_gata3_mean, e_gata3_sd, 'Gata3', (101, 512), brk=(102, 105))
dots_panel((169, 525, 238, 644), [180, 195, 212, 228], 600, range(0, 601, 100), e_irf4, e_irf4_off, e_irf4_mean, e_irf4_sd, 'Irf4', (205, 512), ylabel=False, brk=(203, 207))
dots_panel((63, 695, 135, 815), [79, 93, 111, 126], 600, range(0, 601, 100), e_il10, e_il10_off, e_il10_mean, e_il10_sd, 'Il10', (100, 681), brk=(102, 105))
dots_panel((172, 696, 238, 815), [180, 195, 212, 227], 600, range(0, 601, 100), e_ms4, e_ms4_off, e_ms4_mean, e_ms4_sd, 'Ms4a4b', (204, 681), ylabel=False, brk=(203, 207))
dots_panel((63, 863, 135, 983), [78, 93, 110, 126], 150, range(0, 151, 25), e_st2, e_st2_off, e_st2_mean, e_st2_sd, '$\\mathit{Il1rl1}$(ST2)', (101, 850), brk=(102, 105))
dot_legend(528, 541)
dot_legend(697, 710)
dot_legend(867, 880)
for y in [653, 826, 996]:
    txt(43, y, 'IL-4', size=8.5)
stars(74, 92, 588, '**')
stars(107, 124, 526, '***')
stars(177, 194, 606, '*')
stars(211, 227, 537, '**')
stars(74, 92, 802, '**')
stars(111, 128, 703, '*')
stars(179, 192, 738, '*')
stars(213, 227, 704, '*')
stars(75, 92, 976, '*')
stars(109, 127, 861, '**')

# ---------- f ----------
methyl_cmap = LinearSegmentedColormap.from_list('m', [(0, '#f1e94a'), (.25, '#f7f3a6'), (.45, '#d9d9d4'), (.6, '#bcbfd6'), (.8, '#6f7fc0'), (1, '#3350a2')])
bar_cmap = LinearSegmentedColormap.from_list('c', ['#f1e94a', '#ffffff', '#3350a2'])
expr_bar_cmap = LinearSegmentedColormap.from_list('e', ['#23317f', '#7d1f6a', '#ed1c24'])


def heat(box, rows):
    m = np.array([[int(c) for c in r.replace(' ', '')] for r in rows]) / 9
    ax = px_axes(*box)
    ax.imshow(m, aspect='auto', cmap=methyl_cmap, vmin=0, vmax=1, interpolation='nearest')
    ax.set_xticks([])
    ax.set_yticks([])
    for s in ax.spines.values():
        s.set_linewidth(0.7)
        s.set_color('#444444')


heat((353, 548, 730, 570), cluster1_rows)
heat((353, 574, 730, 629), cluster2_rows)
heat((353, 633, 730, 651), cluster3_rows)
heat((353, 655, 730, 659), cluster4_rows)

group_spans = [(353, 424), (429, 501), (506, 577), (582, 654), (658.5, 730)]
group_cols = [(365.5, 391, 416), (441, 466, 491), (517, 542, 567), (593, 618, 643), (669, 694, 719)]


def group_header(y_text, y_br, y_num):
    for (x0, x1), cols, g, s in zip(group_spans, group_cols, f_groups, f_subs):
        txt((x0 + x1) / 2, y_text, '%s T$_{%s}$' % (g, s), size=9)
        seg([x0, x1], [y_br, y_br], lw=0.8, color='#333333')
        seg([x0, x0], [y_br - 2, y_br + 2], lw=0.8, color='#333333')
        seg([x1, x1], [y_br - 2, y_br + 2], lw=0.8, color='#333333')
        for x, n in zip(cols, '123'):
            txt(x, y_num, n, size=7)


group_header(527, 537, 543.5)
group_header(900, 911, 917.5)

for name, y, y0, y1 in [('Cluster 1', 560, 548, 570), ('Cluster 2', 601, 574, 629), ('Cluster 3', 643, 633, 651), ('Cluster 4', 657, 654, 659)]:
    seg([739.5, 739.5], [y0, y1], lw=1.2)
    txt(743.5, y, name, size=8, ha='left')

ax = px_axes(289, 559, 308, 622)
ax.imshow(np.linspace(1, 0, 100)[:, None], aspect='auto', cmap=bar_cmap)
ax.set_xticks([])
ax.set_yticks([])
txt(298, 552, '100%', size=7.5)
txt(298, 627, '0%', size=7.5)
txt(282, 590, 'Methylation', size=8, rotation=90)

ax = px_axes(289, 923, 308, 987)
ax.imshow(np.linspace(1, 0, 100)[:, None], aspect='auto', cmap=expr_bar_cmap)
ax.set_xticks([])
ax.set_yticks([])
txt(301, 918, 'High', size=8)
txt(301, 991, 'Low', size=8)
txt(282, 955, 'Gene expression', size=8, rotation=90)

# cluster tree above motif map
seg([449, 639.5, ], [669, 669], lw=1.1)
seg([449, 449], [669, 677], lw=1.1)
seg([639.5, 639.5], [669, 677], lw=1.1)
for x0, x1 in [(401, 497), (592, 688)]:
    seg([x0, x1], [677, 677], lw=1.1)
    seg([x0, x0], [677, 684], lw=1.1)
    seg([x1, x1], [677, 684], lw=1.1)
for x, c in zip([404, 499, 592, 688], motif_columns):
    txt(x, 691, c, size=9)

ax = px_axes(353, 701, 730, 889)
ax.imshow(np.array([[int(c) for c in r] for r in motif_rows]), aspect='auto', cmap=ListedColormap(motif_colors), vmin=0, vmax=4, interpolation='nearest')
for y in np.arange(0.5, len(motif_rows)):
    ax.axhline(y, color='white', lw=0.2, alpha=0.3)
ax.axvline(0.5, color='white', lw=0.4)
ax.set_xticks([])
ax.set_yticks([])
for s in ax.spines.values():
    s.set_linewidth(0.7)
    s.set_color('#555555')

for i, n in enumerate(motif_names):
    y = 701 + 188 * (i + 0.5) / len(motif_names)
    if i % 2 == 0:
        txt(349.5, y - 1.5, n, size=6.5, ha='right', style='italic')
    else:
        txt(294, y - 1, n, size=6.5, ha='left', style='italic')

tree_h = [(266, 277, 768), (266, 277, 837), (277, 283, 738), (277, 282, 793), (277, 283, 823), (277, 283, 855),
          (283, 287, 718), (283, 287, 760), (282, 286, 783), (282, 287, 805), (283, 287, 830), (283, 287, 846),
          (283, 287, 865), (286, 290, 709), (286, 290, 727), (286, 290, 746), (286, 290, 770), (286, 290, 788),
          (286, 290, 814), (287, 290, 837), (287, 290, 860), (287, 290, 875)]
tree_v = [(266, 768, 837), (277, 738, 793), (277, 823, 855), (283, 718, 760), (282, 783, 805), (283, 830, 865),
          (286, 709, 727), (286, 746, 770), (287, 805, 820), (287, 860, 885), (288, 704, 720), (288, 740, 765),
          (288, 785, 800), (288, 810, 818), (288, 833, 842), (289, 868, 885)]
for x0, x1, y in tree_h:
    seg([x0, x1], [y, y], lw=1.1)
for x, y0, y1 in tree_v:
    seg([x, x], [y0, y1], lw=1.1)

ax = px_axes(740, 703, 786, 750)
ax.imshow([list(range(5))], aspect='auto', cmap=ListedColormap(motif_colors), vmin=0, vmax=4)
ax.set_xticks([])
ax.set_yticks([])
for s in ax.spines.values():
    s.set_visible(False)
txt(744, 757, '-3', size=8)
txt(781, 757, '+3', size=8)
for t, y in zip(['motif', 'enrichment', 'score'], [765, 778, 791]):
    txt(763, y, t, size=8)
seg([739.5, 739.5], [822, 889], lw=1.2)
for t, y in zip(['Cluster 2', 'binding', 'motif', 'enriched', 'factors'], [830, 843, 855, 867, 880]):
    txt(765, y, t, size=8)

ax = px_axes(353, 922, 730, 1002)
ax.imshow(np.array([[expr_codes.index(c) for c in r] for r in expr_rows]), aspect='auto', cmap=ListedColormap(expr_colors), vmin=0, vmax=9, interpolation='nearest')
ax.set_xticks([])
ax.set_yticks([])
for s in ax.spines.values():
    s.set_linewidth(0.7)
    s.set_color('#555555')
for i, n in enumerate(expr_names):
    txt(349.5, 922 + 80 * (i + 0.5) / len(expr_names), n, size=6.5, ha='right', style='italic')
seg([739.5, 739.5], [924, 1002], lw=1.2)
for t, y in zip(['Cluster 2', 'binding', 'motif', 'enriched', 'factors'], [937, 950, 962, 975, 987]):
    txt(765, y, t, size=8)

fig.savefig('out.png', dpi=100, facecolor='white')
